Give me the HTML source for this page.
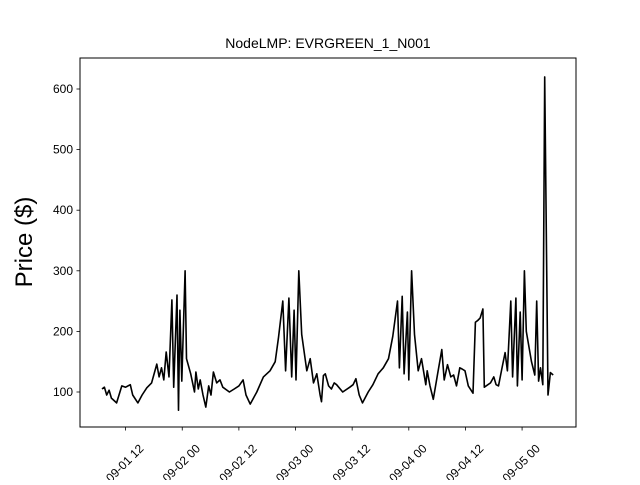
<!DOCTYPE html>
<html><head><meta charset="utf-8"><style>
body{margin:0;background:#fff}
text{font-family:"Liberation Sans","DejaVu Sans",sans-serif;fill:#000}
</style></head><body>
<svg id="chart" width="640" height="480" viewBox="0 0 640 480" xmlns="http://www.w3.org/2000/svg">
<rect width="640" height="480" fill="#fff"/>
<text x="328" y="48" font-size="14" text-anchor="middle">NodeLMP: EVRGREEN_1_N001</text>
<text transform="translate(32,242) rotate(-90)" font-size="24" text-anchor="middle">Price ($)</text>
<g id="plot"></g>
<rect x="80" y="58" width="496" height="369" fill="none" stroke="#000" stroke-width="1"/>
</svg>
<script>
// hours elapsed since series start (09-01 07:00)
const hours=[0,0.5,1,1.5,2,3.1,4.2,5,6,6.5,7.6,8.5,9.5,10.5,11.6,12.1,12.6,13.1,13.6,14.2,14.8,15.2,15.9,16.2,16.5,16.9,17.6,17.9,18.8,19.6,19.9,20.4,20.8,21.4,22,22.6,23.1,23.6,24.3,25,25.6,27,28,29,29.9,30.5,31.4,32.8,34.2,35.6,36.7,37.4,38.3,38.9,39.6,40.2,40.7,41.1,41.7,42.3,43.4,44.1,44.8,45.5,46.2,46.5,46.9,47.3,48,48.6,49.2,49.7,51,52.5,53.2,53.8,54.5,55.2,56.4,57.4,58.5,59.6,60.7,61.6,62.6,63,63.6,64,64.7,65,65.6,66.2,67,67.7,68.6,68.9,69.5,70.2,71,72,72.5,73.2,73.9,74.5,75.1,75.8,76.3,76.9,77.6,78.6,79.1,79.6,80.1,80.7,81,82.3,83,83.5,84,84.7,85.4,85.9,86.6,87,87.7,88,88.6,89,89.5,89.9,91,91.7,92.1,92.5,92.9,93.4,93.8,94.5,95,95.6];
const prices=[105,108,95,103,90,82,110,108,112,95,82,95,107,115,146,125,140,120,166,125,252,108,260,70,235,118,300,155,130,100,133,105,120,95,75,110,95,133,115,120,108,100,105,110,120,95,80,100,125,135,150,190,250,135,255,125,235,120,300,195,135,155,115,130,95,84,127,130,110,105,115,112,100,108,112,122,95,82,100,112,130,140,155,192,250,140,258,130,232,120,300,195,135,155,112,135,110,88,125,170,120,145,125,128,110,140,138,135,110,98,215,218,222,237,108,115,125,112,110,138,165,135,250,125,255,110,232,120,300,200,150,128,250,118,140,112,620,95,132,128];
const startHour=7,px0=102,pxPerHour=4.72;
const yTicks=[100,200,300,400,500,600];
const xTicks=[12,24,36,48,60,72,84,96];
const xTickLabels=["09-01 12","09-02 00","09-02 12","09-03 00","09-03 12","09-04 00","09-04 12","09-05 00"];
const xs=t=>px0+(t-startHour)*pxPerHour;
const ys=v=>392-(v-100)*0.606;
const NS="http://www.w3.org/2000/svg";
const g=document.getElementById('plot');
function mk(tag,attrs){const e=document.createElementNS(NS,tag);for(const k in attrs)e.setAttribute(k,attrs[k]);g.appendChild(e);return e;}
const n=Math.min(hours.length,prices.length);
let d='';
for(let i=0;i<n;i++){d+=(i?'L':'M')+xs(hours[i]+startHour).toFixed(1)+' '+ys(prices[i]).toFixed(1);}
const line=mk('path',{d:d,fill:'none',stroke:'#000','stroke-width':1.6,'stroke-linejoin':'round'});


yTicks.forEach(v=>{
  const y=ys(v);
  const tk=mk('line',{x1:76.5,x2:80,y1:y,y2:y,stroke:'#000','stroke-width':0.8});
  
  
  const t=mk('text',{x:73,y:y+4,'font-size':12,'text-anchor':'end'});
  t.textContent=v;
  
  
});
xTicks.forEach((h,i)=>{
  const x=xs(h);
  const tk=mk('line',{x1:x,x2:x,y1:427,y2:430.5,stroke:'#000','stroke-width':0.8});
  
  
  const t=mk('text',{transform:`translate(${x+2},${466}) rotate(-45)`,'font-size':12,'text-anchor':'middle'});
  t.textContent=xTickLabels[i];
  
  
});
</script>
</body></html>
